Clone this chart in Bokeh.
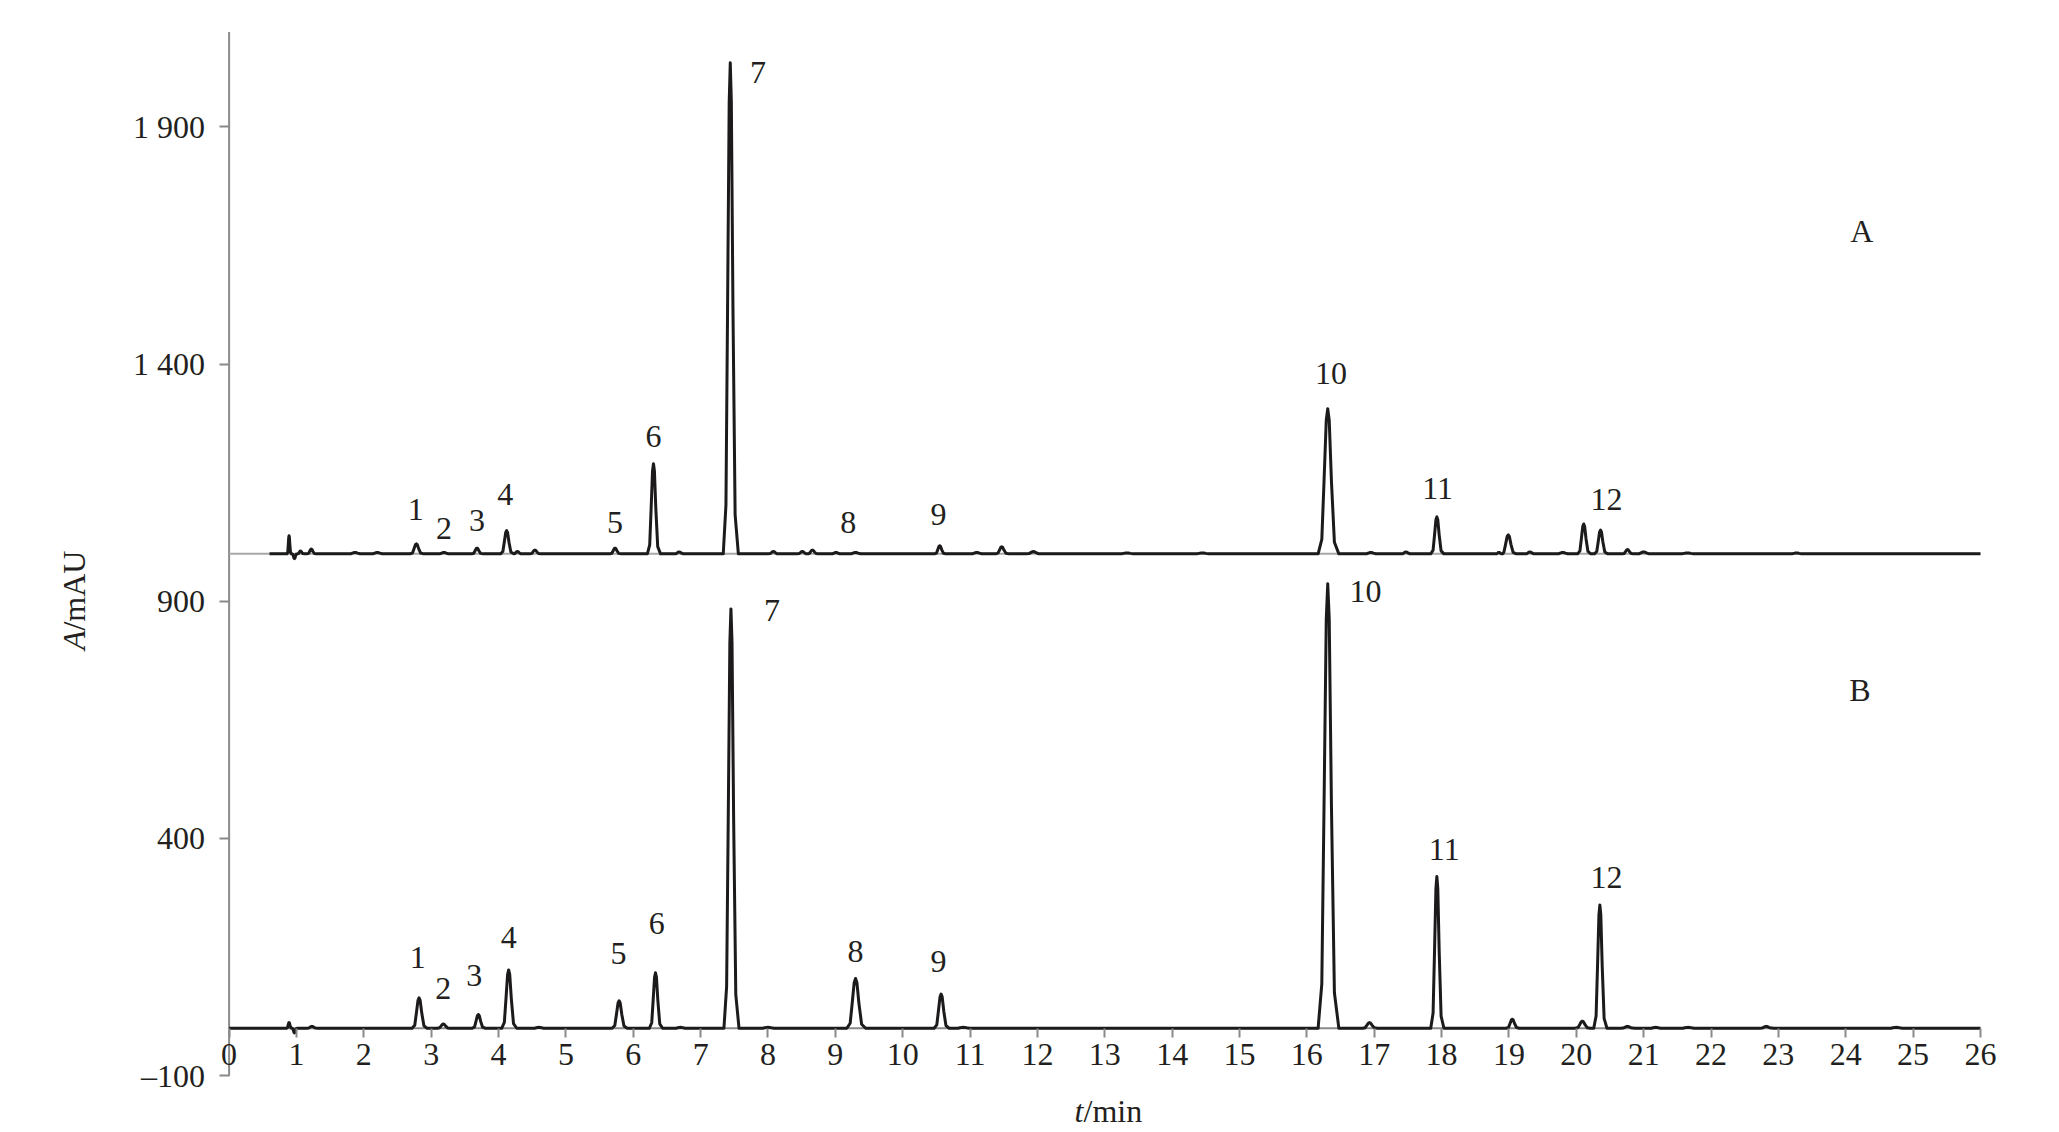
import numpy as np
from bokeh.plotting import figure
from bokeh.models import FixedTicker, Label, Range1d, ColumnDataSource
from bokeh.core.properties import value
from bokeh.embed import file_html
from bokeh.resources import INLINE

FONT = "Liberation Serif"
FONT_SIZE = "32px"

# ---- Trace A (upper chromatogram, drawn on a baseline of 1000 mAU) ----
a_baseline = 1000
a_start = 0.6
a_peak_t = [0.89, 0.97, 1.06, 1.22, 1.87, 2.20, 2.78, 3.19, 3.68, 4.12, 4.28, 4.54,
            5.73, 6.30, 6.68, 7.44, 8.08, 8.51, 8.66, 9.01, 9.30, 10.55, 11.10,
            11.47, 11.94, 13.33, 14.45, 16.31, 16.95, 17.47, 17.93, 18.85, 18.99,
            19.31, 19.80, 20.11, 20.36, 20.76, 21.00, 21.65, 23.27]
a_peak_h = [38, -10, 6, 10, 3, 3, 21, 3, 12, 49, 5, 8,
            12, 190, 4, 1035, 5, 5, 8, 3, 3, 17, 3,
            15, 5, 2, 2, 306, 3, 4, 78, 3, 40,
            4, 3, 63, 50, 9, 4, 2, 2]
a_peak_w = [0.012, 0.015, 0.02, 0.025, 0.04, 0.04, 0.035, 0.035, 0.03, 0.035, 0.025, 0.03,
            0.03, 0.035, 0.03, 0.04, 0.03, 0.03, 0.03, 0.03, 0.04, 0.03, 0.04,
            0.035, 0.04, 0.05, 0.05, 0.055, 0.04, 0.03, 0.035, 0.02, 0.04,
            0.03, 0.04, 0.035, 0.035, 0.03, 0.04, 0.05, 0.04]

# ---- Trace B (lower chromatogram, baseline 0 mAU) ----
b_baseline = 0
b_start = 0.0
b_peak_t = [0.89, 0.97, 1.23, 2.82, 3.18, 3.70, 4.15, 4.60, 5.79, 6.33, 6.70, 7.45,
            8.00, 9.30, 10.57, 10.90, 16.31, 16.93, 17.93, 19.05, 20.09, 20.35,
            20.76, 21.18, 21.66, 22.82, 24.75]
b_peak_h = [12, -10, 4, 64, 9, 29, 123, 2, 58, 117, 2, 884,
            2, 105, 72, 2, 937, 12, 320, 19, 15, 260,
            4, 2, 2, 4, 2]
b_peak_w = [0.015, 0.015, 0.03, 0.04, 0.035, 0.035, 0.04, 0.04, 0.04, 0.035, 0.04, 0.04,
            0.05, 0.05, 0.04, 0.05, 0.055, 0.04, 0.035, 0.035, 0.04, 0.035,
            0.04, 0.04, 0.05, 0.04, 0.05]

# ---- peak number labels ----
a_lab_text = ["1", "2", "3", "4", "5", "6", "7", "8", "9", "10", "11", "12"]
a_lab_t = [2.77, 3.19, 3.68, 4.10, 5.73, 6.30, 7.85, 9.19, 10.53, 16.36, 17.94, 20.45]
a_lab_y = [1094, 1054, 1070, 1126, 1066, 1247, 2015, 1066, 1082, 1381, 1138, 1114]
b_lab_text = ["1", "2", "3", "4", "5", "6", "7", "8", "9", "10", "11", "12"]
b_lab_t = [2.80, 3.18, 3.64, 4.15, 5.78, 6.35, 8.06, 9.30, 10.53, 16.87, 18.04, 20.45]
b_lab_y = [150, 84, 111, 191, 158, 221, 880, 162, 141, 920, 377, 318]

trace_names = ["A", "B"]
trace_name_t = [24.24, 24.21]
trace_name_y = [1680, 712]

y_ticks = [-100, 400, 900, 1400, 1900]
y_tick_labels = ["\u2013100", "400", "900", "1 400", "1 900"]
x_ticks = list(range(0, 27))
x_min, x_max = 0, 26
y_min, y_max = -100, 2100

# generic piecewise peak outline (in units of each peak's half-width)
PROFILE_X = [-2.6, -1.6, -1.0, -0.4, 0.0, 0.4, 1.0, 1.8, 3.0]
PROFILE_Y = [0.0, 0.1, 0.5, 0.92, 1.0, 0.92, 0.5, 0.08, 0.0]


def build_trace(t0, t1, base, ts, hs, ws):
    xs = [t0]
    ys = [base]
    for t, h, w in sorted(zip(ts, hs, ws)):
        for px, py in zip(PROFILE_X, PROFILE_Y):
            x = t + px * w
            if x <= xs[-1]:
                continue
            xs.append(x)
            ys.append(base + py * h)
    xs.append(t1)
    ys.append(base)
    return xs, ys


ax, ay = build_trace(a_start, x_max, a_baseline, a_peak_t, a_peak_h, a_peak_w)
bx, by = build_trace(b_start, x_max, b_baseline, b_peak_t, b_peak_h, b_peak_w)

# the frame spans the whole canvas; axes sit at x = 0 and y = 0
p = figure(width=2050, height=1130,
           x_range=Range1d(-3.394, 27.040), y_range=Range1d(-215.5, 2166.4),
           output_backend="svg", toolbar_location=None,
           min_border_left=0, min_border_right=0,
           min_border_top=0, min_border_bottom=0)
p.grid.visible = False
p.outline_line_color = None

AXIS_GRAY = "#8a8a8a"
LINE_COL = "#1c1a1a"
TEXT_COL = "#231f20"

xa = p.xaxis[0]
xa.fixed_location = 0
xa.ticker = FixedTicker(ticks=x_ticks)
xa.axis_line_color = None
xa.major_tick_line_color = AXIS_GRAY
xa.major_tick_line_width = 2
xa.major_tick_out = 9
xa.major_tick_in = 0
xa.minor_tick_line_color = None
xa.major_label_text_font = FONT
xa.major_label_text_font_size = FONT_SIZE
xa.major_label_text_color = TEXT_COL
xa.major_label_standoff = 7

ya = p.yaxis[0]
ya.fixed_location = 0
ya.ticker = FixedTicker(ticks=y_ticks)
ya.major_label_overrides = {t: s for t, s in zip(y_ticks, y_tick_labels)}
ya.axis_line_color = None
ya.major_tick_line_color = AXIS_GRAY
ya.major_tick_line_width = 2
ya.major_tick_out = 10
ya.major_tick_in = 0
ya.minor_tick_line_color = None
ya.major_label_text_font = FONT
ya.major_label_text_font_size = FONT_SIZE
ya.major_label_text_color = TEXT_COL
ya.major_label_standoff = 14

# axis lines limited to the data extent
p.line([x_min, x_min], [y_min, y_max], line_color=AXIS_GRAY, line_width=2)
p.line([x_min, x_max], [0, 0], line_color=AXIS_GRAY, line_width=2)
# baseline of trace A
p.line([x_min, x_max], [a_baseline, a_baseline], line_color="#a8a8a8", line_width=2)

p.line(ax, ay, line_color=LINE_COL, line_width=3, line_join="round")
p.line(bx, by, line_color=LINE_COL, line_width=3, line_join="round")

lab_src = ColumnDataSource(dict(x=a_lab_t + b_lab_t + trace_name_t,
                                y=a_lab_y + b_lab_y + trace_name_y,
                                text=a_lab_text + b_lab_text + trace_names))
p.text(x="x", y="y", text="text", source=lab_src,
       text_font=value(FONT), text_font_size=FONT_SIZE, text_color=TEXT_COL,
       text_align="center", text_baseline="middle")

# axis titles (italic quantity symbol + upright unit)
common = dict(text_font=FONT, text_font_size=FONT_SIZE, text_color=TEXT_COL,
              text_baseline="middle")
p.add_layout(Label(x=12.684, y=-174.4, text="t", text_font_style="italic",
                   text_align="right", **common))
p.add_layout(Label(x=12.684, y=-174.4, text="/min", text_align="left", **common))
p.add_layout(Label(x=-2.31, y=838.4, text="A", text_font_style="italic",
                   text_align="right", angle=np.pi / 2, **common))
p.add_layout(Label(x=-2.31, y=838.4, text="/mAU", text_align="left",
                   angle=np.pi / 2, **common))

open("out.html", "w").write(file_html(p, INLINE))
